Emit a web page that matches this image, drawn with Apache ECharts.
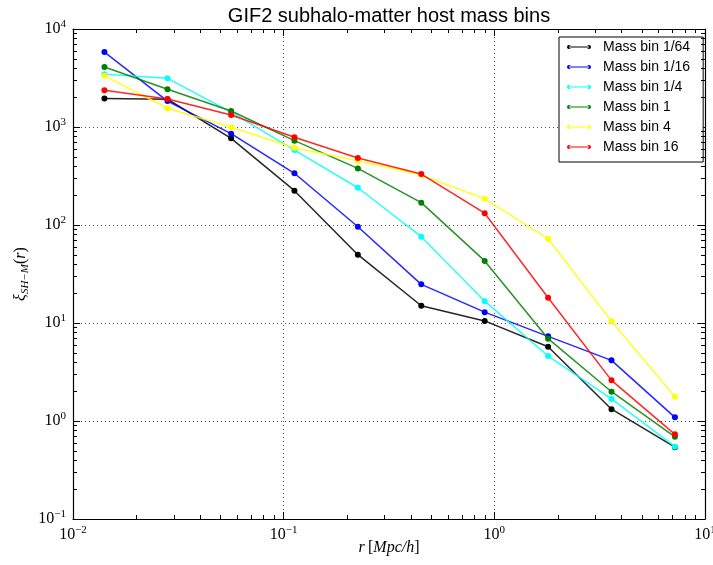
<!DOCTYPE html>
<html>
<head>
<meta charset="utf-8">
<script src="https://cdn.jsdelivr.net/npm/echarts@6/dist/echarts.min.js"></script>
<style>html,body{margin:0;padding:0;background:#fff}#c{width:713px;height:565px}</style>
</head>
<body>
<div id="c"></div>
<script>
const rValues = [0.0141, 0.0281, 0.0563, 0.1125, 0.225, 0.45, 0.9, 1.8, 3.6, 7.2];
const seriesNames = ['Mass bin 1/64', 'Mass bin 1/16', 'Mass bin 1/4', 'Mass bin 1', 'Mass bin 4', 'Mass bin 16'];
const seriesColors = ['#000000', '#0000ff', '#00ffff', '#008000', '#ffff00', '#ff0000'];
const massBin1_64 = [1950, 1920, 766, 224, 49.8, 15.0, 10.5, 5.73, 1.32, 0.54];
const massBin1_16 = [5820, 1840, 855, 337, 96, 24.8, 12.9, 7.31, 4.16, 1.09];
const massBin1_4 = [3446, 3140, 1420, 582, 240, 76, 16.7, 4.60, 1.68, 0.547];
const massBin1 = [4090, 2430, 1455, 725, 378, 169, 43, 6.92, 1.99, 0.69];
const massBin4 = [3340, 1553, 994, 615, 453, 323, 185, 72.5, 10.4, 1.77];
const massBin16 = [2366, 1930, 1325, 785, 483, 331, 132, 18.1, 2.60, 0.731];
const allSeries = [massBin1_64, massBin1_16, massBin1_4, massBin1, massBin4, massBin16];
const xMin = 0.01, xMax = 10, yMin = 0.1, yMax = 10000;
const xMinorTicks = [];
for (let e = -2; e < 1; e++) for (let m = 2; m <= 9; m++) xMinorTicks.push([m * Math.pow(10, e), 1]);
const yMinorTicks = [];
for (let e = -1; e < 4; e++) for (let m = 2; m <= 9; m++) yMinorTicks.push([1, m * Math.pow(10, e)]);

const serif = 'Liberation Serif';
function powLabel(v) {
  const e = Math.round(Math.log10(v));
  const s = e < 0 ? '\u2212' + (-e) : '' + e;
  return '{b|10}{e|' + s + '}';
}
const powRich = {
  b: { fontFamily: serif, fontSize: 16, color: '#000', lineHeight: 20 },
  e: { fontFamily: serif, fontSize: 11, color: '#000', lineHeight: 20, padding: [0, 0, 9, 0] }
};

const chart = echarts.init(document.getElementById('c'), null, { renderer: 'canvas' });
const lineSeries = allSeries.map((vals, i) => ({
  name: seriesNames[i],
  type: 'line',
  data: rValues.map((r, j) => [r, vals[j]]),
  xAxisIndex: 0, yAxisIndex: 0,
  symbol: 'circle', symbolSize: 6,
  itemStyle: { color: seriesColors[i] },
  lineStyle: { color: seriesColors[i], width: 1.5, opacity: 0.85 },
  z: 3 + i,
  animation: false
}));

const tickStyle = { stroke: '#000', lineWidth: 1 };
const xMinorSeries = {
  type: 'custom', xAxisIndex: 0, yAxisIndex: 0, silent: true, clip: false, z: 10, animation: false,
  data: xMinorTicks,
  renderItem: function (params, api) {
    const px = Math.round(api.coord([api.value(0), 1])[0]) + 0.5;
    const cs = params.coordSys;
    const bottom = cs.y + cs.height, top = cs.y;
    return { type: 'group', children: [
      { type: 'line', shape: { x1: px, y1: bottom, x2: px, y2: bottom - 4 }, style: tickStyle },
      { type: 'line', shape: { x1: px, y1: top, x2: px, y2: top + 4 }, style: tickStyle }
    ]};
  }
};
const yMinorSeries = {
  type: 'custom', xAxisIndex: 0, yAxisIndex: 0, silent: true, clip: false, z: 10, animation: false,
  data: yMinorTicks,
  renderItem: function (params, api) {
    const py = Math.round(api.coord([1, api.value(1)])[1]) + 0.5;
    const cs = params.coordSys;
    const left = cs.x, right = cs.x + cs.width;
    return { type: 'group', children: [
      { type: 'line', shape: { x1: left, y1: py, x2: left + 4, y2: py }, style: tickStyle },
      { type: 'line', shape: { x1: right, y1: py, x2: right - 4, y2: py }, style: tickStyle }
    ]};
  }
};

const gridLine = { show: true, lineStyle: { color: '#222', width: 0.8, type: [1, 3] } };
const axisLineStyle = { show: true, onZero: false, lineStyle: { color: '#000', width: 1.2 } };
const majorTick = { show: true, inside: true, length: 7, lineStyle: { color: '#000', width: 1 } };

chart.setOption({
  animation: false,
  backgroundColor: '#fff',
  title: {
    text: 'GIF2 subhalo-matter host mass bins',
    left: 384, top: 1, textAlign: 'center',
    textStyle: { fontFamily: 'Liberation Sans', fontSize: 20, fontWeight: 'normal', color: '#000' }
  },
  grid: { left: 73, right: 8, top: 29, bottom: 46, containLabel: false, outerBoundsMode: 'none' },
  legend: {
    data: seriesNames,
    orient: 'vertical',
    left: 559, top: 37,
    padding: [3, 13, 8, 8],
    itemGap: 6,
    itemWidth: 24, itemHeight: 8,
    itemTextGap: 12,
    icon: 'path://M2,3.5h20v1h-20z M0,4a2,2 0 1,0 4,0a2,2 0 1,0 -4,0z M20,4a2,2 0 1,0 4,0a2,2 0 1,0 -4,0z',
    backgroundColor: '#fff',
    borderColor: '#000', borderWidth: 1, borderRadius: 0,
    textStyle: { fontFamily: 'Liberation Sans', fontSize: 14, color: '#000', lineHeight: 14, padding: [0, 0, 0, 7] },
    selectedMode: false
  },
  xAxis: [
    {
      type: 'log', logBase: 10, min: xMin, max: xMax, position: 'bottom',
      axisLine: axisLineStyle, axisTick: majorTick, splitLine: gridLine,
      axisLabel: { formatter: powLabel, rich: powRich, margin: 6, showMinLabel: true, showMaxLabel: true },
      name: '{i|r} {n|[}{i|Mpc/h}{n|]}',
      nameLocation: 'middle', nameGap: 21, nameMoveOverlap: false,
      nameTextStyle: { rich: {
        i: { fontFamily: serif, fontStyle: 'italic', fontSize: 16, color: '#000' },
        n: { fontFamily: serif, fontSize: 16, color: '#000' }
      } }
    },
    {
      type: 'log', logBase: 10, min: xMin, max: xMax, position: 'top',
      axisLine: axisLineStyle, axisTick: majorTick, splitLine: { show: false },
      axisLabel: { show: false }
    }
  ],
  yAxis: [
    {
      type: 'log', logBase: 10, min: yMin, max: yMax, position: 'left',
      axisLine: axisLineStyle, axisTick: majorTick, splitLine: gridLine,
      axisLabel: { formatter: powLabel, rich: powRich, margin: 7, showMinLabel: true, showMaxLabel: true },
      name: '{i|\u03BE}{s|SH\u2212M}{n|(}{i|r}{n|)}',
      nameLocation: 'middle', nameGap: 42, nameRotate: 90, nameMoveOverlap: false,
      nameTextStyle: { rich: {
        i: { fontFamily: serif, fontStyle: 'italic', fontSize: 16, color: '#000', lineHeight: 20 },
        s: { fontFamily: serif, fontStyle: 'italic', fontSize: 11, color: '#000', lineHeight: 20, padding: [8, 0, 0, 0] },
        n: { fontFamily: serif, fontSize: 16, color: '#000', lineHeight: 20 }
      } }
    },
    {
      type: 'log', logBase: 10, min: yMin, max: yMax, position: 'right',
      axisLine: axisLineStyle, axisTick: majorTick, splitLine: { show: false },
      axisLabel: { show: false }
    }
  ],
  series: lineSeries.concat([xMinorSeries, yMinorSeries])
});
</script>
</body>
</html>
